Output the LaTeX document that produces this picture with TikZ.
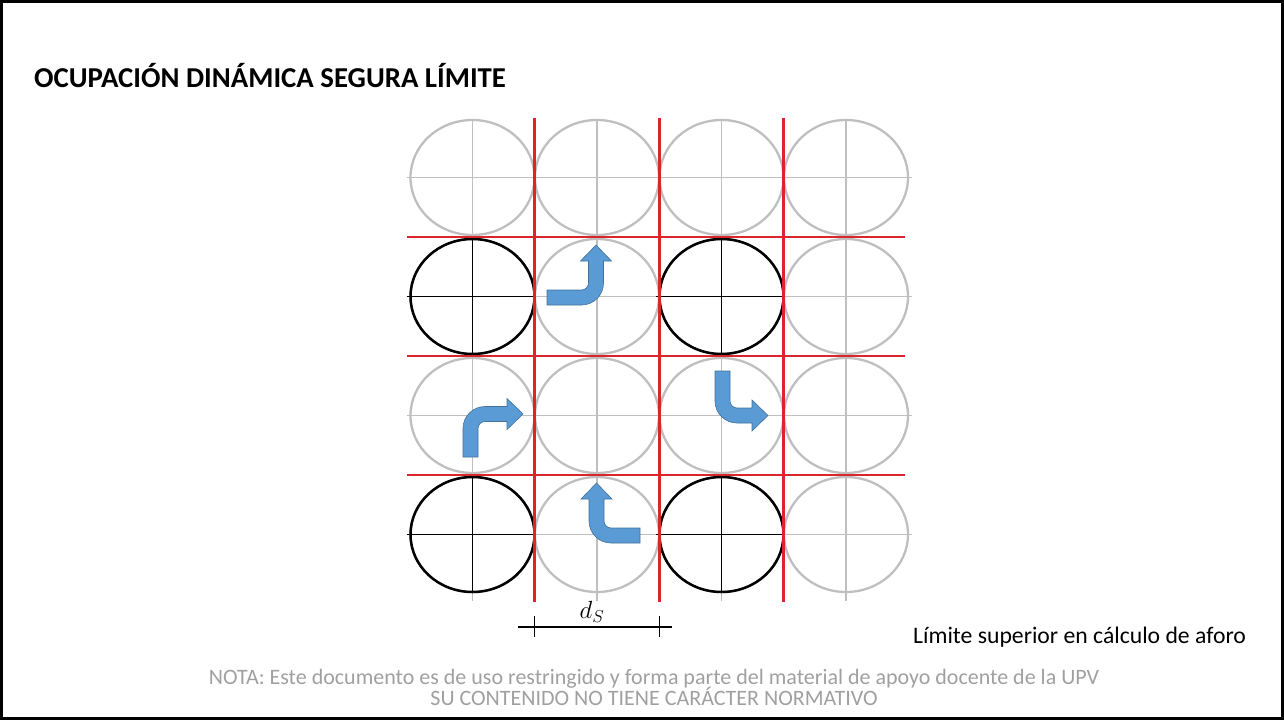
\documentclass[tikz,border=0pt]{standalone}
\usepackage{fontspec}
\setmainfont{Carlito}
\usetikzlibrary{shapes.geometric}
\definecolor{cgray}{RGB}{191,191,191}
\definecolor{cred}{RGB}{218,37,44}
\definecolor{cblue}{RGB}{91,155,213}
\definecolor{cblueedge}{RGB}{65,113,156}
\definecolor{cnote}{RGB}{160,160,160}
\newcommand\bentarrow[3]{%
\begin{scope}[#1]
\filldraw[arrowbody] (0,7.5) -- ({#2+7.5-22},7.5) arc[start angle=90,end angle=0,radius=22]
  -- ({#2+7.5},{-#3+16}) -- ({#2+15.5},{-#3+16}) -- (#2,-#3) -- ({#2-15.5},{-#3+16})
  -- ({#2-7.5},{-#3+16}) -- ({#2-7.5},{-7.5-7}) arc[start angle=0,end angle=90,radius=7]
  -- (0,-7.5) -- cycle;
\end{scope}}
\begin{document}
\begin{tikzpicture}[x=1pt,y=-1pt,
  graycirc/.style={draw=cgray,line width=2.3pt},
  blackcirc/.style={draw=black,line width=2.5pt},
  graycross/.style={draw=cgray,line width=1.3pt},
  blackcross/.style={draw=black,line width=1.3pt},
  redline/.style={draw=cred,line width=2.6pt},
  arrowbody/.style={fill=cblue,draw=cblueedge,line width=0.6pt},
  dimline/.style={draw=black,line width=1.2pt},
  titletext/.style={font=\fontsize{28.8}{32}\selectfont\bfseries,anchor=base west,inner sep=0pt},
  labeltext/.style={font=\fontsize{23.7}{28}\selectfont,anchor=base west,inner sep=0pt},
  notetext/.style={font=\fontsize{22}{26}\selectfont,text=cnote,anchor=base,inner sep=0pt}]
\useasboundingbox (0,0) rectangle (1284,720);
\draw[line width=3pt] (1.5,1.5) rectangle (1282.5,718.5);

% gray circles with crosshairs
\foreach \i in {0,...,3}{
  \foreach \j in {0,...,3}{
    \pgfmathsetmacro\cx{472.5+124.5*\i}
    \pgfmathsetmacro\cy{177.5+119*\j}
    \draw[graycross] ({\cx-66},\cy) -- ({\cx+66},\cy);
    \draw[graycross] (\cx,{\cy-59}) -- (\cx,{\cy+66});
    \draw[graycirc] (\cx,\cy) ellipse[x radius=62, y radius=57.5];
  }
}
% black circles
\foreach \i/\j in {0/1,2/1,0/3,2/3}{
  \pgfmathsetmacro\cx{472.5+124.5*\i}
  \pgfmathsetmacro\cy{177.5+119*\j}
  \draw[blackcross] ({\cx-66},\cy) -- ({\cx+62},\cy);
  \draw[blackcross] (\cx,{\cy-57.5}) -- (\cx,{\cy+57.5});
  \draw[blackcirc] (\cx,\cy) ellipse[x radius=62, y radius=57.5];
}
% red grid lines
\foreach \k in {0,1,2}{
  \pgfmathsetmacro\rx{534.75+124.5*\k}
  \pgfmathsetmacro\ry{237+119*\k}
  \draw[redline] (\rx,118) -- (\rx,602);
  \draw[redline] (407,\ry) -- (905,\ry);
}

% bent arrows
\bentarrow{shift={(547,297.5)}}{49}{52.5}
\bentarrow{shift={(470.5,457)},rotate=90,yscale=-1}{43}{52.5}
\bentarrow{shift={(722.5,371)},rotate=-90}{44.5}{45.5}
\bentarrow{shift={(640,535.5)},rotate=180,yscale=-1}{43.5}{52.5}

% dimension
\coordinate (dl) at (518,627);
\coordinate (dr) at (672,627);
\coordinate (t1a) at (534.75,616);
\coordinate (t1b) at (534.75,637);
\coordinate (t2a) at (659.25,616);
\coordinate (t2b) at (659.25,637);
\draw[dimline] (dl) -- (dr);
\draw[dimline] (t1a) -- (t1b);
\draw[dimline] (t2a) -- (t2b);
\node[font=\fontsize{24}{28}\selectfont,inner sep=0pt] (ds) at (592,612) {$d_S$};

% texts
\node[titletext] (title) at (34,87) {OCUPACIÓN DINÁMICA SEGURA LÍMITE};
\node[labeltext] (lim) at (913,643) {Límite superior en cálculo de aforo};
\node[notetext] (nota1) at (654,684) {NOTA: Este documento es de uso restringido y forma parte del material de apoyo docente de la UPV};
\node[notetext] (nota2) at (654,705) {SU CONTENIDO NO TIENE CARÁCTER NORMATIVO};
\end{tikzpicture}
\end{document}
